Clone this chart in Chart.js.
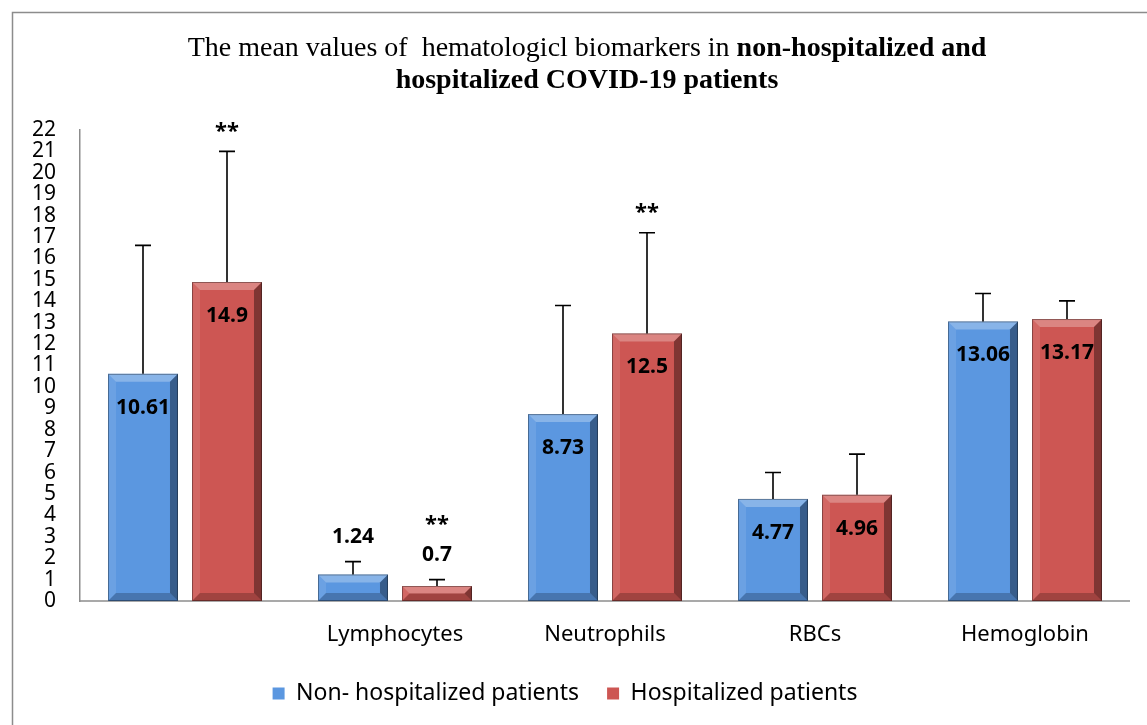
<!DOCTYPE html>
<html>
<head>
<meta charset="utf-8">
<script src="https://cdn.jsdelivr.net/npm/chart.js@4.4.1/dist/chart.umd.min.js"></script>
<style>
  html, body { margin: 0; padding: 0; background: #fff; }
  #wrap { width: 1147px; height: 725px; position: relative; }
</style>
</head>
<body>
<div id="wrap"><canvas id="biomarkers"></canvas></div>
<script>
"use strict";

// --- data ---
const categories = ['', 'Lymphocytes', 'Neutrophils', 'RBCs', 'Hemoglobin'];
const nonHosp = [10.61, 1.24, 8.73, 4.77, 13.06];
const hosp = [14.9, 0.7, 12.5, 4.96, 13.17];
const nonHospErr = [6.0, 0.6, 5.07, 1.23, 1.3];
const hospErr = [6.1, 0.3, 4.7, 1.9, 0.85];
const hospSig = ['**', '**', '**', '', ''];
const yTicks = [0, 1, 2, 3, 4, 5, 6, 7, 8, 9, 10, 11, 12, 13, 14, 15, 16, 17, 18, 19, 20, 21, 22];

const BLUE = '#5b97e0';
const RED = '#cd5653';
const AXIS = '#8c8c8c';
const FONT = "'Noto Sans', sans-serif";

/* frame + title (mixed regular/bold like the original) */
const framePlugin = {
  id: 'frame',
  beforeDraw(chart) {
    const ctx = chart.ctx;
    ctx.save();
    ctx.fillStyle = '#fff';
    ctx.fillRect(0, 0, chart.width, chart.height);
    ctx.strokeStyle = AXIS;
    ctx.lineWidth = 1.5;
    ctx.beginPath();
    ctx.moveTo(12.5, chart.height + 5);
    ctx.lineTo(12.5, 12.5);
    ctx.lineTo(chart.width + 5, 12.5);
    ctx.stroke();

    const cx = 587;
    ctx.fillStyle = '#000';
    ctx.textBaseline = 'middle';
    const part1 = 'The mean values of  hematologicl biomarkers in ';
    const part2 = 'non-hospitalized and';
    const fReg = "28px 'Liberation Serif', serif";
    const fBold = "bold 28px 'Liberation Serif', serif";
    ctx.font = fReg;
    const w1 = ctx.measureText(part1).width;
    ctx.font = fBold;
    const w2 = ctx.measureText(part2).width;
    let x = cx - (w1 + w2) / 2;
    ctx.textAlign = 'left';
    ctx.font = fReg;
    ctx.fillText(part1, x, 49);
    ctx.font = fBold;
    ctx.fillText(part2, x + w1, 49);
    ctx.textAlign = 'center';
    ctx.fillText('hospitalized COVID-19 patients', cx, 81);
    ctx.restore();
  },
  beforeDatasetsDraw(chart) {
    // category axis line, from the y axis to the end of the last category
    const {ctx, chartArea} = chart;
    const xs = chart.scales.x;
    const xEnd = xs.getPixelForValue(categories.length - 0.5);
    ctx.save();
    ctx.strokeStyle = AXIS;
    ctx.lineWidth = 1.5;
    ctx.beginPath();
    ctx.moveTo(chartArea.left, chartArea.bottom);
    ctx.lineTo(xEnd, chartArea.bottom);
    ctx.stroke();
    ctx.restore();
  }
};

/* bevel look, error bars, value labels, significance stars */
const decoPlugin = {
  id: 'deco',
  afterDatasetsDraw(chart) {
    const ctx = chart.ctx;
    const yScale = chart.scales.y;
    const errs = [nonHospErr, hospErr];
    ctx.save();
    chart.data.datasets.forEach((ds, di) => {
      const meta = chart.getDatasetMeta(di);
      meta.data.forEach((bar, i) => {
        const l = bar.x - bar.width / 2;
        const r = bar.x + bar.width / 2;
        const t = bar.y;
        const btm = bar.base;
        const b = Math.min(8, (btm - t) / 2);
        const quad = (pts, fill) => {
          ctx.beginPath();
          ctx.moveTo(pts[0][0], pts[0][1]);
          for (let k = 1; k < pts.length; k++) ctx.lineTo(pts[k][0], pts[k][1]);
          ctx.closePath();
          ctx.fillStyle = fill;
          ctx.fill();
        };
        quad([[l, t], [r, t], [r - b, t + b], [l + b, t + b]], 'rgba(255,255,255,0.28)');
        quad([[l, t], [l + b, t + b], [l + b, btm - b], [l, btm]], 'rgba(255,255,255,0.10)');
        quad([[r, t], [r - b, t + b], [r - b, btm - b], [r, btm]], 'rgba(0,0,0,0.38)');
        quad([[l, btm], [l + b, btm - b], [r - b, btm - b], [r, btm]], 'rgba(0,0,0,0.22)');
        ctx.strokeStyle = 'rgba(0,0,0,0.35)';
        ctx.lineWidth = 1;
        ctx.strokeRect(l + 0.5, t + 0.5, r - l - 1, btm - t - 1);

        // error bar (plus side only)
        const val = ds.data[i];
        const yTop = yScale.getPixelForValue(val + errs[di][i]);
        ctx.strokeStyle = '#000';
        ctx.lineWidth = 1.6;
        ctx.beginPath();
        ctx.moveTo(bar.x, t);
        ctx.lineTo(bar.x, yTop);
        ctx.moveTo(bar.x - 8, yTop);
        ctx.lineTo(bar.x + 8, yTop);
        ctx.stroke();

        // value label
        ctx.fillStyle = '#000';
        ctx.font = 'bold 21px ' + FONT;
        ctx.textAlign = 'center';
        ctx.textBaseline = 'middle';
        const inside = (btm - t) > 60;
        const ly = inside ? t + 34 : yTop - 25;
        ctx.fillText(String(val), bar.x, ly);

        // stars
        if (di === 1 && hospSig[i]) {
          ctx.font = 'bold 22px ' + FONT;
          const sy = inside ? yTop - 24 : ly - 34;
          ctx.fillText(hospSig[i], bar.x, sy + 4);
        }
      });
    });
    ctx.restore();
  }
};

const canvas = document.getElementById('biomarkers');

new Chart(canvas, {
  type: 'bar',
  data: {
    labels: categories,
    datasets: [{
      label: 'Non- hospitalized patients',
      data: nonHosp,
      backgroundColor: BLUE,
      borderWidth: 0,
      categoryPercentage: 0.8,
      barPercentage: 0.833
    }, {
      label: 'Hospitalized patients',
      data: hosp,
      backgroundColor: RED,
      borderWidth: 0,
      categoryPercentage: 0.8,
      barPercentage: 0.833
    }]
  },
  options: {
    responsive: true,
    maintainAspectRatio: false,
    animation: false,
    layout: {
      padding: { top: 130, right: 17, bottom: 10, left: 0 }
    },
    plugins: {
      title: { display: false },
      tooltip: { enabled: false },
      legend: {
        position: 'bottom',
        labels: {
          color: '#000',
          font: { family: FONT, size: 23 },
          boxWidth: 12,
          boxHeight: 12,
          padding: 28
        }
      }
    },
    scales: {
      x: {
        grid: { display: false, drawTicks: false },
        border: { display: false },
        ticks: {
          color: '#000',
          font: { family: FONT, size: 22 },
          padding: 21,
          maxRotation: 0
        },
        afterFit(scale) { scale.height = 53; }
      },
      y: {
        min: 0,
        max: 22,
        afterBuildTicks(scale) { scale.ticks = yTicks.map(v => ({ value: v })); },
        grid: { display: false, drawTicks: false },
        border: { display: true, color: AXIS, width: 1.5 },
        ticks: {
          color: '#000',
          font: { family: FONT, size: 21, lineHeight: 1 },
          padding: 24,
          autoSkip: false
        },
        afterFit(scale) { scale.width = 80; }
      }
    }
  },
  plugins: [framePlugin, decoPlugin]
});
</script>
</body>
</html>
